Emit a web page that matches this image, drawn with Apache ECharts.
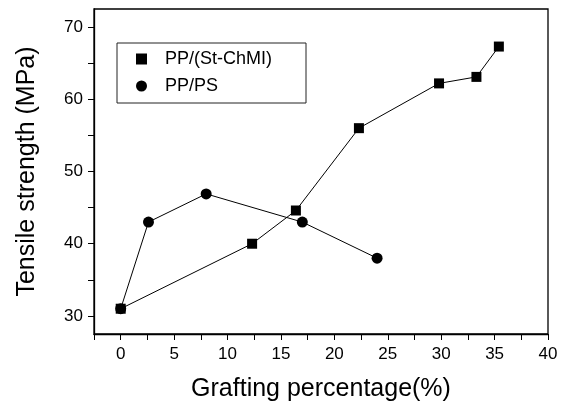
<!DOCTYPE html>
<html>
<head>
<meta charset="utf-8">
<script src="https://cdn.jsdelivr.net/npm/echarts@6/dist/echarts.min.js"></script>
<style>
  html, body { margin: 0; padding: 0; background: #fff; }
  #chart { width: 562px; height: 407px; }
</style>
</head>
<body>
<div id="chart"></div>
<script>
// grafting percentage (%) / tensile strength (MPa)
const chmiX = [0, 12.3, 16.4, 22.3, 29.8, 33.3, 35.4]
const chmiY = [31, 40.0, 44.6, 56.0, 62.2, 63.1, 67.3]
const psX = [0, 2.6, 8.0, 17.0, 24.0]
const psY = [31, 43.0, 46.9, 43.0, 38.0]

const xLabels = [0, 5, 10, 15, 20, 25, 30, 35, 40]
const xTicks = [-2.5, 0, 2.5, 5, 7.5, 10, 12.5, 15, 17.5, 20, 22.5, 25, 27.5, 30, 32.5, 35, 37.5, 40]
const yLabels = [30, 40, 50, 60, 70]
const yTicks = [30, 35, 40, 45, 50, 55, 60, 65, 70]

const font = 'Liberation Sans, Arial, sans-serif'
const pair = (xs, ys) => xs.map((x, i) => [x, ys[i]])

let chart = echarts.init(document.getElementById('chart'))
chart.setOption({
  animation: false,
  grid: {
    left: 94,
    right: 14,
    top: 9,
    bottom: 63,
    show: true,
    borderColor: '#000',
    borderWidth: 1.3
  },
  legend: {
    left: 117,
    top: 43,
    orient: 'vertical',
    borderColor: '#222',
    borderWidth: 1,
    padding: [7, 34, 8, 19],
    itemGap: 9,
    itemWidth: 11,
    itemHeight: 11,
    textStyle: { fontFamily: font, fontSize: 18, color: '#000', padding: [0, 0, 0, 13] },
    data: [
      { name: 'PP/(St-ChMI)', icon: 'rect' },
      { name: 'PP/PS', icon: 'circle' }
    ]
  },
  xAxis: {
    type: 'value',
    min: -2.5,
    max: 40,
    name: 'Grafting percentage(%)',
    nameLocation: 'middle',
    nameGap: 43,
    nameTextStyle: { fontFamily: font, fontSize: 25, color: '#000' },
    axisLine: { show: true, onZero: false, lineStyle: { color: '#000', width: 1.3 } },
    axisTick: { show: true, inside: false, length: 6, customValues: xTicks, lineStyle: { color: '#000' } },
    axisLabel: { customValues: xLabels, margin: 12, fontFamily: font, fontSize: 17, color: '#000' },
    splitLine: { show: false }
  },
  yAxis: {
    type: 'value',
    min: 27.5,
    max: 72.5,
    name: 'Tensile strength (MPa)',
    nameLocation: 'middle',
    nameGap: 54,
    nameTextStyle: { fontFamily: font, fontSize: 25, color: '#000' },
    axisLine: { show: true, onZero: false, lineStyle: { color: '#000', width: 1.3 } },
    axisTick: { show: true, inside: false, length: 6, customValues: yTicks, lineStyle: { color: '#000' } },
    axisLabel: { customValues: yLabels, margin: 11, fontFamily: font, fontSize: 17, color: '#000' },
    splitLine: { show: false }
  },
  series: [
    {
      name: 'PP/(St-ChMI)',
      type: 'line',
      data: pair(chmiX, chmiY),
      symbol: 'rect',
      symbolSize: 10,
      itemStyle: { color: '#000' },
      lineStyle: { color: '#000', width: 1 }
    },
    {
      name: 'PP/PS',
      type: 'line',
      data: pair(psX, psY),
      symbol: 'circle',
      symbolSize: 11,
      itemStyle: { color: '#000' },
      lineStyle: { color: '#000', width: 1 }
    }
  ]
})
</script>
</body>
</html>
